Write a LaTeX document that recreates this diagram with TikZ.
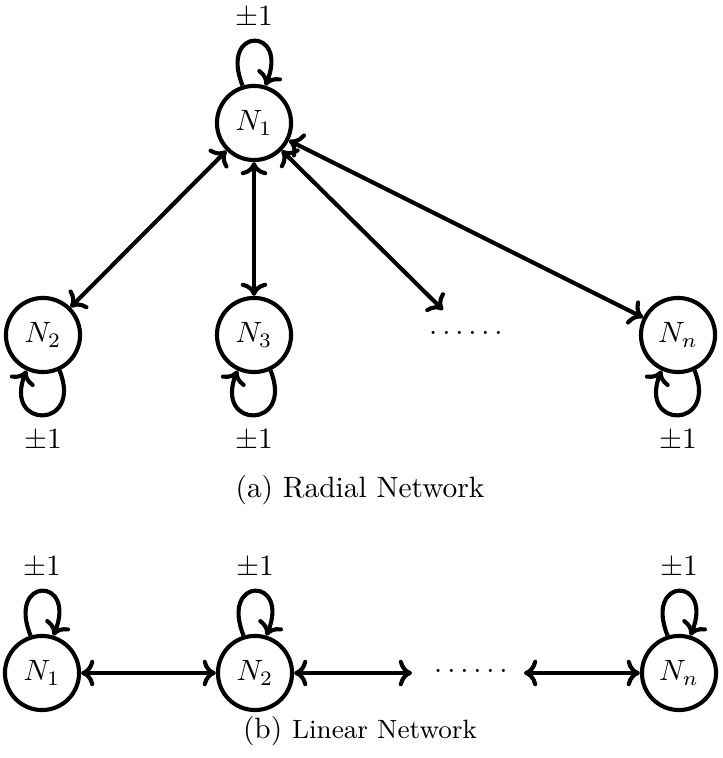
\documentclass[tikz,border=0pt]{standalone}
\usepackage{amsmath,amssymb}
\usepackage{tikz}
\usetikzlibrary{arrows.meta}
\tikzstyle{Node}=[circle,draw,line width=1.4pt,minimum size=25.2pt,inner sep=0pt]
\tikzstyle{Edge}=[draw,line width=1.4pt]
\tikzstyle{NodeST}=[inner sep=1pt]

\begin{document}
\begin{tikzpicture}[x=0.34pt,y=0.34pt,>={Computer Modern Rightarrow[length=4.5pt,width=9pt]}]
        \useasboundingbox(0,0)rectangle(722,758);
        \node[Node](a1)at(254,635){$N_1$};
        \node[Node](a2)at(43,423){$N_2$};
        \node[Node](a3)at(254,423){$N_3$};
        \node[NodeST](ad)at(466,425){$\ldots\ldots$};
        \node[Node](an)at(678,423){$N_n$};
        \coordinate(at)at(443,448);
        \node[NodeST](l1)at(254,741){$\pm1$};
        \node[NodeST](l2)at(43,318){$\pm1$};
        \node[NodeST](l3)at(254,318){$\pm1$};
        \node[NodeST](ln)at(678,318){$\pm1$};
        \draw[Edge,<->](a1)--(a2);
        \draw[Edge,<->](a1)--(a3);
        \draw[Edge,<->](a1)--(at);
        \draw[Edge,<->](a1)--(an);
        \draw[Edge,->](a1.107)..controls+(112:64)and+(68:64)..(a1.73);
        \draw[Edge,->](a2.-65)..controls+(-68:64)and+(-112:64)..(a2.-115);
        \draw[Edge,->](a3.-65)..controls+(-68:64)and+(-112:64)..(a3.-115);
        \draw[Edge,->](an.-65)..controls+(-68:64)and+(-112:64)..(an.-115);
        \node(capa)at(360,268){(a) Radial Network};
        \node[Node](b1)at(42,85){$N_1$};
        \node[Node](b2)at(255,85){$N_2$};
        \node[NodeST](bd)at(471,87){$\ldots\ldots$};
        \node[Node](bn)at(679,85){$N_n$};
        \coordinate(bl)at(412,85);
        \coordinate(br)at(524,85);
        \node[NodeST](m1)at(42,191){$\pm1$};
        \node[NodeST](m2)at(255,191){$\pm1$};
        \node[NodeST](mn)at(679,191){$\pm1$};
        \draw[Edge,<->](b1)--(b2);
        \draw[Edge,<->](b2)--(bl);
        \draw[Edge,<->](br)--(bn);
        \draw[Edge,->](b1.107)..controls+(112:64)and+(68:64)..(b1.73);
        \draw[Edge,->](b2.107)..controls+(112:64)and+(68:64)..(b2.73);
        \draw[Edge,->](bn.107)..controls+(112:64)and+(68:64)..(bn.73);
        \node(capb)at(360,27){(b) {\small Linear Network}};
    \end{tikzpicture}
\end{document}
